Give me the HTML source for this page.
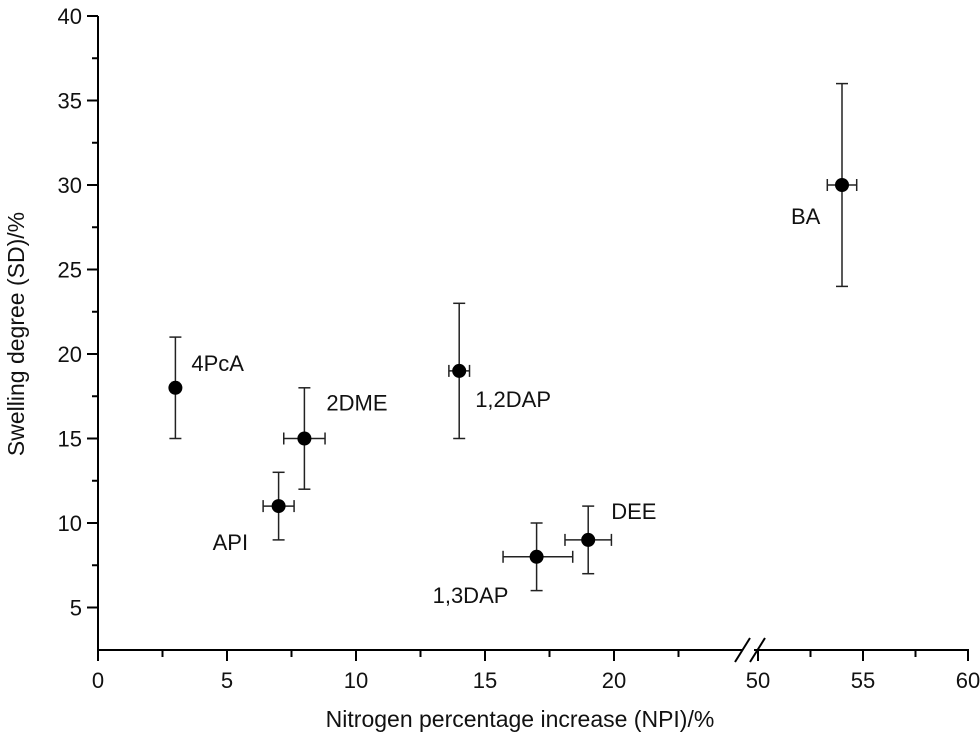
<!DOCTYPE html>
<html><head><meta charset="utf-8"><style>
body{margin:0;background:#fff;}
svg{display:block;font-family:"Liberation Sans",Arial,sans-serif;}
</style></head><body>
<svg id="chart" width="980" height="740" viewBox="0 0 980 740"></svg>
<script>
const labels=["4PcA","2DME","API","1,2DAP","1,3DAP","DEE","BA"];
const xVals=[3,8,7,14,17,19,54];
const yVals=[18,15,11,19,8,9,30];
const xErrLo=[0,0.8,0.6,0.4,1.3,0.9,0.7];
const xErrHi=[0,0.8,0.6,0.4,1.4,0.9,0.7];
const yErrLo=[3,3,2,4,2,2,6];
const yErrHi=[3,3,2,4,2,2,6];
const xTicks=[0,5,10,15,20,50,55,60];
const yTicks=[5,10,15,20,25,30,35,40];
const labelDx=[16,22,-66,16,-104,23,-51];
const labelDy=[-17,-28,44,36,46,-21,39];

const svg=document.getElementById('chart');
const NS='http://www.w3.org/2000/svg';
function X(v){return v<=35? 98+v*25.8 : 758+(v-50)*21;}
function Y(v){return 16+(40-v)*16.9;}
function mk(t,a,p){const e=document.createElementNS(NS,t);for(const k in a)e.setAttribute(k,a[k]);(p||svg).appendChild(e);return e;}
const axes=mk('g',{stroke:'#000','stroke-width':2});


mk('line',{x1:98,y1:16,x2:98,y2:651},axes);
mk('line',{x1:97,y1:650,x2:969,y2:650},axes);
mk('rect',{x:742,y:640,width:12,height:20,fill:'#fff',stroke:'none'},axes);
mk('line',{x1:735,y1:662,x2:750,y2:638},axes);
mk('line',{x1:750,y1:662,x2:765,y2:638},axes);
xTicks.forEach(v=>{
 mk('line',{x1:X(v),y1:650,x2:X(v),y2:661},axes);
 const t=mk('text',{x:X(v),y:688,'text-anchor':'middle','font-size':22,fill:'#111',stroke:'none'});t.textContent=v;
 
 
});
[2.5,7.5,12.5,17.5,22.5,52.5,57.5].forEach(v=>mk('line',{x1:X(v),y1:650,x2:X(v),y2:657},axes));
yTicks.forEach(v=>{
 mk('line',{x1:87,y1:Y(v),x2:98,y2:Y(v)},axes);
 const t=mk('text',{x:82,y:Y(v)+8,'text-anchor':'end','font-size':22,fill:'#111',stroke:'none'});t.textContent=v;
 
 
});
[7.5,12.5,17.5,22.5,27.5,32.5,37.5].forEach(v=>mk('line',{x1:92,y1:Y(v),x2:98,y2:Y(v)},axes));
const xt=mk('text',{x:520,y:727,'text-anchor':'middle','font-size':23,fill:'#111'});xt.textContent='Nitrogen percentage increase (NPI)/%';


const yt=mk('text',{x:0,y:0,'text-anchor':'middle','font-size':23,fill:'#111',transform:'translate(24,334) rotate(-90)'});yt.textContent='Swelling degree (SD)/%';


labels.forEach((l,i)=>{
 const g=mk('g',{stroke:'#222','stroke-width':1.5});
 
 
 const cx=X(xVals[i]),cy=Y(yVals[i]);
 const y1=Y(yVals[i]+yErrHi[i]),y2=Y(yVals[i]-yErrLo[i]);
 mk('line',{x1:cx,y1:y1,x2:cx,y2:y2},g);
 mk('line',{x1:cx-6,y1:y1,x2:cx+6,y2:y1},g);
 mk('line',{x1:cx-6,y1:y2,x2:cx+6,y2:y2},g);
 if(xErrLo[i]>0){
  const a=X(xVals[i]-xErrLo[i]),b=X(xVals[i]+xErrHi[i]);
  mk('line',{x1:a,y1:cy,x2:b,y2:cy},g);
  mk('line',{x1:a,y1:cy-6,x2:a,y2:cy+6},g);
  mk('line',{x1:b,y1:cy-6,x2:b,y2:cy+6},g);
 }
 mk('circle',{cx:cx,cy:cy,r:7,fill:'#000',stroke:'none'},g);
 const t=mk('text',{x:cx+labelDx[i],y:cy+labelDy[i],'font-size':22,fill:'#111',stroke:'none'});t.textContent=l;
 
 
});
</script>
</body></html>
